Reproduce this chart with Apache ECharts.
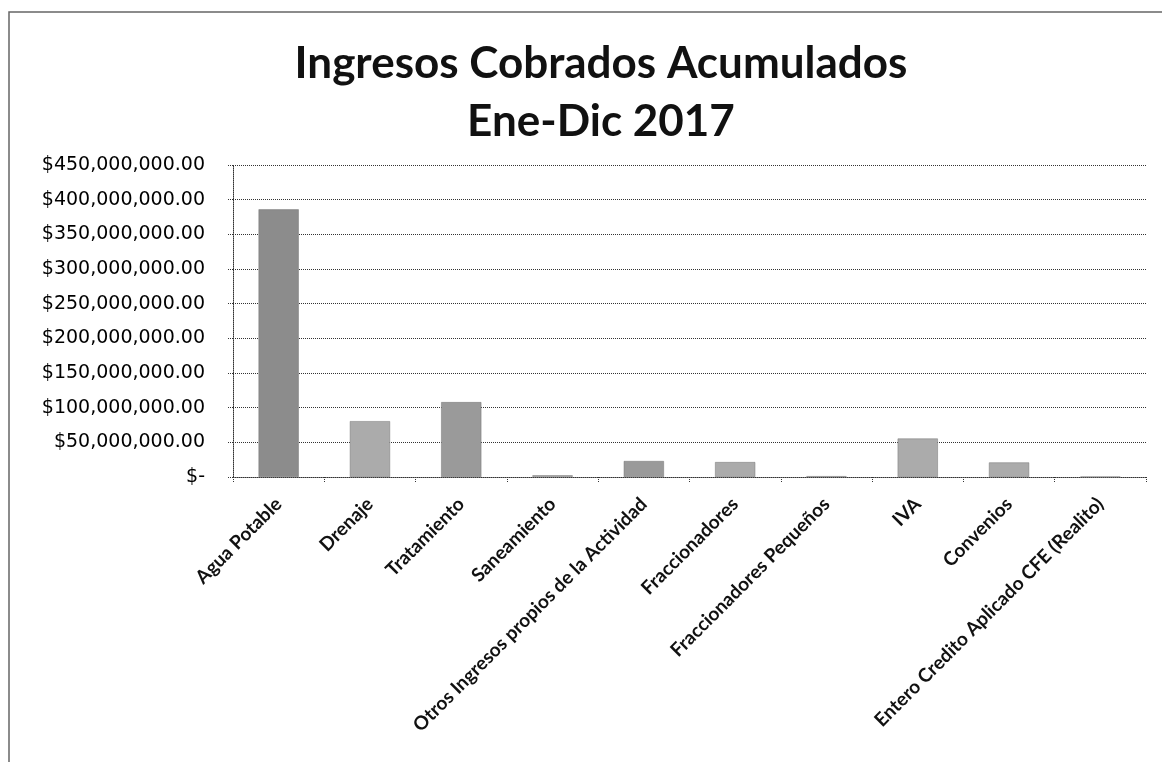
<!DOCTYPE html>
<html>
<head>
<meta charset="utf-8">
<script src="https://cdn.jsdelivr.net/npm/echarts@6/dist/echarts.min.js"></script>
<style>
  html, body { margin: 0; padding: 0; background: #fff; }
  #chart { width: 1162px; height: 762px; }
</style>
</head>
<body>
<div id="chart"></div>
<script>
// Ingresos cobrados acumulados, enero-diciembre 2017 (pesos)
const categories = [
  'Agua Potable',
  'Drenaje',
  'Tratamiento',
  'Saneamiento',
  'Otros Ingresos propios de la Actividad',
  'Fraccionadores',
  'Fraccionadores Pequeños',
  'IVA',
  'Convenios',
  'Entero Credito Aplicado CFE (Realito)'
];
const ingresos = [
  386000000,
  80500000,
  108000000,
  2500000,
  23000000,
  21500000,
  1200000,
  55500000,
  21000000,
  400000
];
const titleLines = ['Ingresos Cobrados Acumulados', 'Ene-Dic 2017'];

const moneyFormat = v => v === 0
  ? '$-'
  : '$' + v.toLocaleString('en-US', { minimumFractionDigits: 2, maximumFractionDigits: 2 });

const chart = echarts.init(document.getElementById('chart'), null, { renderer: 'canvas' });

chart.setOption({
  backgroundColor: '#ffffff',
  animation: false,
  title: {
    text: titleLines.join('\n'),
    left: 596,
    textAlign: 'center',
    top: 30,
    textStyle: {
      fontFamily: 'Lato',
      fontWeight: 'bold',
      fontSize: 44,
      lineHeight: 58,
      color: '#111'
    }
  },
  graphic: [{
    type: 'rect',
    shape: { x: 9, y: 12, width: 1170, height: 770 },
    style: { fill: 'none', stroke: '#666', lineWidth: 1.5 },
    silent: true
  }],
  grid: { left: 233, right: 16, top: 165, bottom: 285 },
  xAxis: {
    type: 'category',
    data: categories,
    axisLine: { show: true, lineStyle: { color: '#333', type: 'dotted', width: 1 } },
    axisTick: { show: true, length: 5, lineStyle: { color: '#333', type: 'dotted' } },
    axisLabel: {
      rotate: 45,
      interval: 0,
      margin: 24,
      fontFamily: 'Lato',
      fontWeight: 'bold',
      fontSize: 19,
      color: '#111'
    }
  },
  yAxis: {
    type: 'value',
    min: 0,
    max: 450000000,
    interval: 50000000,
    axisLine: { show: true, lineStyle: { color: '#333', type: 'dotted', width: 1 } },
    axisTick: { show: true, length: 5, lineStyle: { color: '#333', type: 'dotted' } },
    splitLine: { show: true, lineStyle: { color: '#333', type: 'dotted', width: 1 } },
    axisLabel: {
      formatter: moneyFormat,
      margin: 28,
      fontFamily: 'DejaVu Sans',
      fontSize: 19,
      color: '#000'
    }
  },
  series: [{
    type: 'bar',
    data: ingresos.map((v, i) => ({
      value: v,
      itemStyle: { color: i === 0 ? '#8c8c8c' : (i === 2 || i === 4 ? '#9a9a9a' : '#ababab') }
    })),
    barWidth: '44%',
    itemStyle: { borderColor: '#777', borderWidth: 0.5 }
  }]
});
</script>
</body>
</html>
